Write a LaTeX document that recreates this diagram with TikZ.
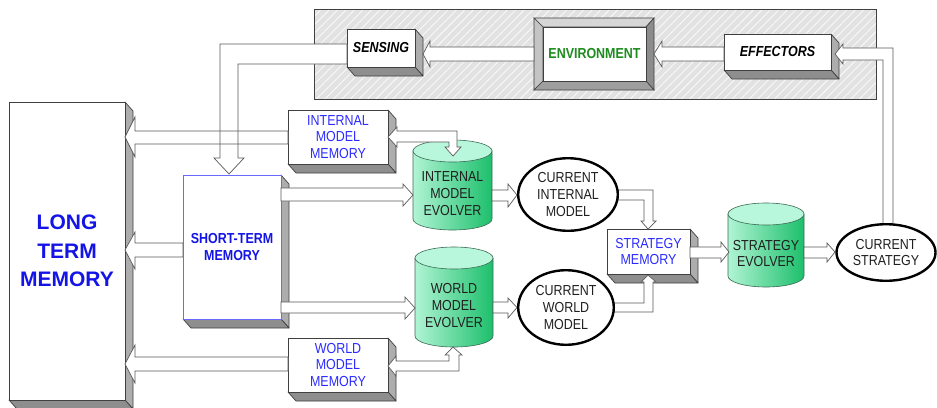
\documentclass[tikz,border=0pt]{standalone}
\usepackage{fontspec}
\setmainfont{Liberation Sans}
\newfontfamily\nf[FakeStretch=0.86]{Liberation Sans}
\usetikzlibrary{shapes.geometric,patterns.meta}
\definecolor{edge}{HTML}{404040}
\definecolor{sideg}{HTML}{ADADAD}
\definecolor{botg}{HTML}{8E8E8E}
\definecolor{ablue}{HTML}{2B2BFF}
\definecolor{bblue}{HTML}{1414E6}
\definecolor{stmblue}{HTML}{6A6AFF}
\definecolor{envgreen}{HTML}{1E8C1E}
\definecolor{cyllight}{HTML}{B0F4D4}
\definecolor{cyldark}{HTML}{1DBF6C}
\definecolor{cyltop}{HTML}{B8F7DC}
\definecolor{cyledge}{HTML}{3D6B55}
\definecolor{arrowedge}{HTML}{5A5A5A}
\definecolor{panel}{HTML}{E2E2E2}
\tikzset{
 boxface/.style={draw=edge, fill=white, line width=0.7pt, inner sep=0pt, align=center},
 ovalnode/.style={ellipse, draw=black, fill=white, line width=2.4pt, inner sep=0pt, align=center, text=black!88, font=\nf\fontsize{14.5}{16.7}\selectfont},
 cyltext/.style={align=center, inner sep=0pt, text=black!88, font=\nf\fontsize{14.5}{16.7}\selectfont},
 ltmtext/.style={text=bblue, font=\bfseries\fontsize{21}{28.5}\selectfont},
 bluebold/.style={text=bblue, font=\nf\bfseries\fontsize{14.5}{17.3}\selectfont},
 bluereg/.style={text=ablue, font=\nf\fontsize{14.5}{16.7}\selectfont},
 blackbi/.style={text=black, font=\nf\bfseries\itshape\fontsize{14.5}{16.7}\selectfont},
 greenbold/.style={text=envgreen, font=\nf\bfseries\fontsize{14.5}{16.7}\selectfont},
}
% 3D box: name, x1, y1, x2, y2, style, text
\newcommand\threed[7]{%
 \filldraw[draw=edge, fill=sideg, line width=0.7pt, line join=round] (#4,#3) -- ({#4+8},{#3+9}) -- ({#4+8},{#5+9}) -- (#4,#5) -- cycle;
 \filldraw[draw=edge, fill=botg, line width=0.7pt, line join=round] (#2,#5) -- (#4,#5) -- ({#4+8},{#5+9}) -- ({#2+8},{#5+9}) -- cycle;
 \node[boxface, #6, minimum width={#4-#2}, minimum height={#5-#3}] (#1) at ({(#2+#4)/2},{(#3+#5)/2}) {#7};
}
% cylinder: name, cx, rx, ytop, ybot, text
\newcommand\cyl[6]{%
 \pgfmathsetmacro\cxl{#2-#3}\pgfmathsetmacro\cxr{#2+#3}%
 \pgfmathsetmacro\yt{#4+11}\pgfmathsetmacro\yb{#5-11}%
 \pgfmathsetmacro\kx{0.5523*#3}\pgfmathsetmacro\ky{0.5523*11}%
 \shadedraw[left color=cyllight, right color=cyldark, draw=cyledge, line width=0.6pt]
  (\cxl,\yt) -- (\cxl,\yb) .. controls (\cxl,{\yb+\ky}) and ({#2-\kx},#5) .. (#2,#5)
  .. controls ({#2+\kx},#5) and (\cxr,{\yb+\ky}) .. (\cxr,\yb) -- (\cxr,\yt) -- cycle;
 \filldraw[fill=cyltop, draw=cyledge, line width=0.6pt] (#2,\yt) ellipse [x radius=#3, y radius=11];
 \node[cyltext] (#1) at (#2,{(\yt+#5)/2+3}) {#6};
}
\newcommand\allarrows[1]{%
 % effectors -> environment
 \path[#1] (654,54) -- (662,41) -- (662,47) -- (724,47) -- (724,61) -- (662,61) -- (662,67) -- cycle;
 % environment -> sensing
 \path[#1] (423,54) -- (430,41) -- (430,47) -- (534,47) -- (534,61) -- (430,61) -- (430,67) -- cycle;
 % sensing -> short-term memory
 \path[#1] (347,44) -- (220,44) -- (220,158) -- (214,158) -- (229,174) -- (244,158) -- (238,158) -- (238,64) -- (347,64) -- cycle;
 % internal model memory -> LTM
 \path[#1] (125,137) -- (135,117) -- (135,131) -- (288,131) -- (288,144) -- (135,144) -- (135,157) -- cycle;
 % STM -> LTM
 \path[#1] (125,250) -- (135,232) -- (135,243) -- (183,243) -- (183,257) -- (135,257) -- (135,269) -- cycle;
 % WMM -> LTM
 \path[#1] (125,364) -- (135,345) -- (135,357) -- (288,357) -- (288,371) -- (135,371) -- (135,383) -- cycle;
 % IMM <-> IME
 \path[#1] (388,137) -- (397,127) -- (397,131) -- (457,131) -- (457,147) -- (461,147) -- (453,156) -- (445,147) -- (449,147) -- (449,142) -- (397,142) -- (397,147) -- cycle;
 % WMM <-> WME
 \path[#1] (388,366) -- (396,356) -- (396,361) -- (449,361) -- (449,355) -- (445,355) -- (453,347) -- (462,355) -- (459,355) -- (459,371) -- (396,371) -- (396,376) -- cycle;
 % STM -> IME
 \path[#1] (413,195) -- (403,184) -- (403,188) -- (281,188) -- (281,201) -- (403,201) -- (403,206) -- cycle;
 % STM -> WME
 \path[#1] (415,308) -- (405,297) -- (405,302) -- (281,302) -- (281,313) -- (405,313) -- (405,319) -- cycle;
 % IME -> CIM
 \path[#1] (517,195) -- (508,184) -- (508,190) -- (492,190) -- (492,201) -- (508,201) -- (508,207) -- cycle;
 % WME -> CWM
 \path[#1] (517,307.5) -- (508,298) -- (508,302) -- (493,302) -- (493,313) -- (508,313) -- (508,318) -- cycle;
 % CIM -> SM
 \path[#1] (610,190) -- (653,190) -- (653,221) -- (656,221) -- (648,229) -- (641,221) -- (644,221) -- (644,200) -- (610,200) -- cycle;
 % CWM -> SM
 \path[#1] (606,312) -- (653,312) -- (653,282) -- (656,282) -- (648,275) -- (641,282) -- (644,282) -- (644,303) -- (606,303) -- cycle;
 % SM -> SE
 \path[#1] (729,252) -- (721,242) -- (721,247) -- (690,247) -- (690,258) -- (721,258) -- (721,262) -- cycle;
 % SE -> CS
 \path[#1] (835,252) -- (827,243) -- (827,247) -- (804,247) -- (804,258) -- (827,258) -- (827,262) -- cycle;
 % CS -> effectors
 \path[#1] (893,230) -- (893,48) -- (843,48) -- (843,44) -- (835,54) -- (843,64) -- (843,60) -- (883,60) -- (883,230) -- cycle;
}
\begin{document}
\begin{tikzpicture}[x=1pt,y=-1pt]
\useasboundingbox[fill=white] (0,0) rectangle (937,407);
% environment panel
\fill[panel] (314,9) rectangle (876,99);
\fill[pattern={Lines[angle=45,distance=6pt,line width=0.9pt]}, pattern color=white!80!panel] (314,9) rectangle (876,99);
\draw[edge, line width=0.8pt] (314,9) rectangle (876,99);
% boxes
\threed{ltm}{9}{102}{125}{400}{ltmtext}{LONG\\TERM\\MEMORY}
\threed{stm}{183}{175}{281}{319}{draw=stmblue, line width=0.8pt, bluebold}{SHORT-TERM\\MEMORY}
\threed{sense}{347}{29}{415}{67}{blackbi}{SENSING}
\threed{eff}{724}{34}{831}{70}{blackbi}{EFFECTORS}
\threed{imm}{288}{110}{388}{164}{bluereg}{INTERNAL\\MODEL\\MEMORY}
\threed{wmm}{288}{338}{388}{392}{bluereg}{WORLD\\MODEL\\MEMORY}
\threed{sm}{607}{229}{690}{274}{bluereg}{STRATEGY\\MEMORY}
% environment bevel box
\filldraw[fill=black!16, draw=edge, line width=0.6pt] (534,18) -- (654,18) -- (646,27) -- (543,27) -- cycle;
\filldraw[fill=black!23, draw=edge, line width=0.6pt] (534,18) -- (543,27) -- (543,81) -- (534,90) -- cycle;
\filldraw[fill=black!45, draw=edge, line width=0.6pt] (654,18) -- (654,90) -- (646,81) -- (646,27) -- cycle;
\filldraw[fill=black!38, draw=edge, line width=0.6pt] (534,90) -- (654,90) -- (646,81) -- (543,81) -- cycle;
\node[boxface, greenbold, minimum width=103, minimum height=54] (env) at (594.5,54) {ENVIRONMENT};
% cylinders
\cyl{ime}{452.5}{39.5}{140}{230}{INTERNAL\\MODEL\\EVOLVER}
\cyl{wme}{454}{39}{247}{347}{WORLD\\MODEL\\EVOLVER}
\cyl{se}{766}{38}{203}{287}{STRATEGY\\EVOLVER}
% block arrows
\allarrows{fill=white}
\allarrows{draw=arrowedge, line width=0.7pt, line join=miter}
% ellipses
\node[ovalnode, minimum width=99.6, minimum height=72.6] (cim) at (568,194.5) {CURRENT\\INTERNAL\\MODEL};
\node[ovalnode, minimum width=95.6, minimum height=74.6] (cwm) at (566,307.5) {CURRENT\\WORLD\\MODEL};
\node[ovalnode, minimum width=99, minimum height=56.6] (cs) at (886,252.5) {CURRENT\\STRATEGY};
\end{tikzpicture}
\end{document}
